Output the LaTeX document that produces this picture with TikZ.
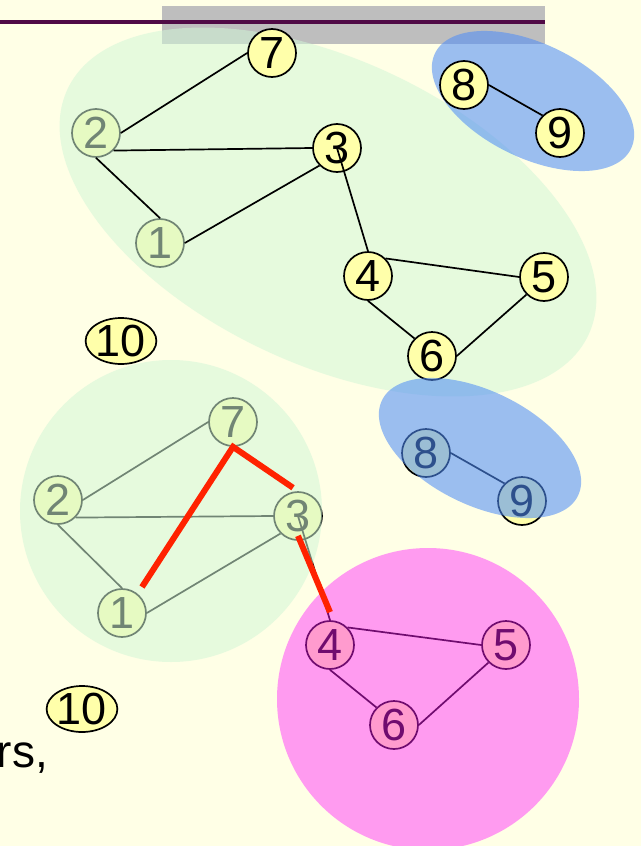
\documentclass[tikz,border=0pt]{standalone}
\usepackage{fontspec}
\setmainfont{Liberation Sans}
\usetikzlibrary{shapes.geometric}
\definecolor{bgyellow}{RGB}{255,255,230}
\definecolor{bargray}{RGB}{190,190,190}
\definecolor{plum}{RGB}{80,10,70}
\definecolor{nodeyellow}{RGB}{255,255,170}
\definecolor{greentint}{RGB}{209,246,215}
\definecolor{bluetint}{RGB}{80,141,247}
\definecolor{pinktint}{RGB}{255,28,253}
\definecolor{redline}{RGB}{255,34,0}
\tikzstyle{vertex} = [circle, minimum size=48pt, inner sep=0pt, draw=black, line width=1.7pt, fill=nodeyellow, font=\fontsize{45}{45}\selectfont]
\tikzstyle{loner} = [vertex, ellipse, minimum width=64pt, minimum height=46pt]
\tikzstyle{edge} = [line width=1.7pt]
\tikzstyle{redge} = [line width=6pt, draw=redline]
\tikzstyle{greenwash} = [fill=greentint, fill opacity=0.54]
\tikzstyle{bluewash} = [fill=bluetint, fill opacity=0.57]
\tikzstyle{pinkwash} = [fill=pinktint, fill opacity=0.44]
\begin{document}
\begin{tikzpicture}[x=1pt, y=-1pt]
		\fill[bgyellow] (0,0) rectangle (641,846);
		\useasboundingbox (0,0) rectangle (641,846);
		\fill[bargray] (162,6) rectangle (545,44);
		\draw[plum, line width=3.5pt] (0,22) -- (545,22);
		% upper graph
		\node (t1) [vertex] at (160,243) {1};
		\node (t2) [vertex] at (96,133) {2};
		\fill[greenwash, rotate around={-25.3:(328,212)}] (328,212) ellipse [x radius=288, y radius=152];
		\fill[bluewash, rotate around={-26:(533,101)}] (533,101) ellipse [x radius=109, y radius=57];
		\node (t7) [vertex] at (272,53) {7};
		\node (t3) [vertex] at (337,148) {3};
		\node (t4) [vertex] at (368,276) {4};
		\node (t5) [vertex] at (544,277) {5};
		\node (t6) [vertex] at (432,356) {6};
		\node (t8) [vertex] at (464,85) {8};
		\node (t9) [vertex] at (560,133) {9};
		\draw[edge] (t2.east) -- (t7.west) (t2.south east) -- (t3.west) (t2.south) -- (t1.north) (t1.east) -- (t3.south west);
		\draw[edge] (t3.center) -- (t4.north) (t4.north east) -- (t5.west) (t4.south) -- (t6.north west) (t5.south west) -- (t6.east);
		\draw[edge] (t8.east) -- (t9.north west);
		\node (t10) [loner] at (121,341) {10};
		% lower graph
		\node (b1) [vertex] at (122,613) {1};
		\node (b2) [vertex] at (58,500) {2};
		\node (b3) [vertex] at (298,516) {3};
		\node (b7) [vertex] at (233,422) {7};
		\node (b4) [vertex] at (330,645) {4};
		\node (b5) [vertex] at (506,645) {5};
		\node (b6) [vertex] at (394,725) {6};
		\node (b8) [vertex] at (426,453) {8};
		\node (b9) [vertex] at (522,501) {9};
		\draw[edge] (b2.east) -- (b7.west) (b2.south east) -- (b3.west) (b2.south) -- (b1.north) (b1.east) -- (b3.south west);
		\draw[edge] (b3.center) -- (b4.north) (b4.north east) -- (b5.west) (b4.south) -- (b6.north west) (b5.south west) -- (b6.east);
		\draw[edge] (b8.east) -- (b9.north west);
		\fill[greenwash] (171,511) circle [radius=151];
		\fill[pinkwash] (428,699) circle [radius=151];
		\fill[bluewash, rotate around={-26:(480,448)}] (480,448) ellipse [x radius=109, y radius=57];
		\draw[redge, shorten <=8pt, shorten >=6pt] (b1.51) -- (b7.south) -- (b3.north);
		\draw[redge] ([yshift=5pt]b3.south) -- ([yshift=8pt]b4.north);
		\node (b10) [loner] at (82,709) {10};
		\node (tail) [anchor=base east, inner sep=0pt, font=\fontsize{46}{46}\selectfont] at (48,767) {rs,};
	\end{tikzpicture}
\end{document}
